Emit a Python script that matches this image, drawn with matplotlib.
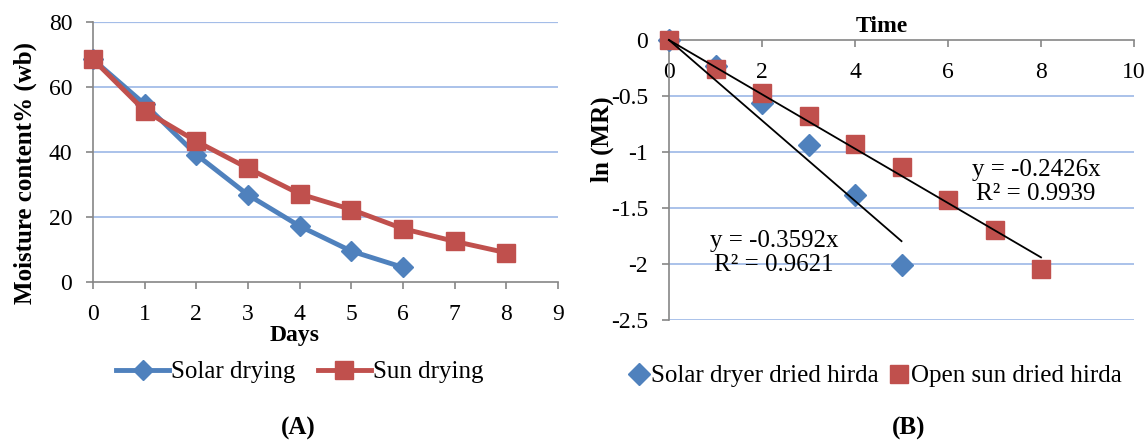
import numpy as np
import matplotlib
matplotlib.use("Agg")
import matplotlib.pyplot as plt

plt.rcParams['font.family'] = ['Liberation Serif', 'DejaVu Serif']
plt.rcParams['axes.unicode_minus'] = False

BLUE = '#4F81BD'
RED = '#C0504D'
GRID = '#A4BDE8'
AXIS = '#868686'

# (A) moisture content, % wet basis
days_solar = [0, 1, 2, 3, 4, 5, 6]
mc_solar = [68.5, 54.7, 39.2, 26.8, 17.2, 9.5, 4.5]
days_sun = [0, 1, 2, 3, 4, 5, 6, 7, 8]
mc_sun = [68.5, 52.7, 43.3, 35.0, 27.1, 22.3, 16.4, 12.5, 9.0]

# (B) ln(MR) vs time with fitted lines through origin
t_solar = [0, 1, 2, 3, 4, 5]
lnmr_solar = [0, -0.23, -0.56, -0.94, -1.38, -2.005]
t_sun = [0, 1, 2, 3, 4, 5, 6, 7, 8]
lnmr_sun = [0, -0.263, -0.47, -0.68, -0.93, -1.13, -1.43, -1.70, -2.045]
slope_solar, r2_solar = -0.3592, 0.9621
slope_sun, r2_sun = -0.2426, 0.9939

FS = 17

fig = plt.figure(figsize=(11.46, 4.4), dpi=100)

# ---------- panel A ----------
ax1 = fig.add_axes([93 / 1146, 1 - 282 / 440, 465 / 1146, 260 / 440])
ax1.plot(days_solar, mc_solar, color=BLUE, lw=3.5, marker='D', ms=10.5,
         label='Solar drying', zorder=3, clip_on=False)
ax1.plot(days_sun, mc_sun, color=RED, lw=3.5, marker='s', ms=13,
         label='Sun drying', zorder=4, clip_on=False)
ax1.set_xlim(0, 9)
ax1.set_ylim(0, 80)
ax1.set_xticks(range(0, 10))
ax1.set_yticks(range(0, 81, 20))
for v in range(20, 81, 20):
    ax1.axhline(v, color=GRID, lw=1.6 if v == 80 else 1.3, zorder=1)
for s in ['top', 'right']:
    ax1.spines[s].set_visible(False)
for s in ['left', 'bottom']:
    ax1.spines[s].set_color(AXIS)
    ax1.spines[s].set_linewidth(1.2)
ax1.tick_params(colors=AXIS, labelcolor='black', labelsize=FS, length=5, width=1.2)
ax1.tick_params(axis='x', pad=11)
ax1.tick_params(axis='y', pad=10)
ax1.set_xlabel('Days', fontsize=FS, fontweight='bold')
ax1.xaxis.set_label_coords(0.434, -0.165)
ax1.set_ylabel('Moisture content% (wb)', fontsize=18, fontweight='bold')
ax1.yaxis.set_label_coords(-0.12, 0.42)

fig.legend(*ax1.get_legend_handles_labels(), loc='center', ncol=2,
           bbox_to_anchor=(300 / 1146, 1 - 372 / 440), frameon=False,
           fontsize=18, handlelength=2.1, handletextpad=0.1, columnspacing=0.9)

# ---------- panel B ----------
ax2 = fig.add_axes([669 / 1146, 1 - 320 / 440, 465 / 1146, 280 / 440])
ax2.plot(t_solar, lnmr_solar, ls='none', marker='D', ms=11, color=BLUE,
         label='Solar dryer dried hirda', zorder=3, clip_on=False)
ax2.plot(t_sun, lnmr_sun, ls='none', marker='s', ms=13.5, color=RED,
         label='Open sun dried hirda', zorder=4, clip_on=False)

xs = np.array([0, max(t_solar)])
ax2.plot(xs, slope_solar * xs, color='black', lw=1.3, zorder=5, clip_on=False)
xs = np.array([0, max(t_sun)])
ax2.plot(xs, slope_sun * xs, color='black', lw=1.3, zorder=5, clip_on=False)

ax2.text(7.89, -1.268, f'y = {slope_sun}x\nR² = {r2_sun}', fontsize=18,
         ha='center', va='center', linespacing=1.1)
ax2.text(2.26, -1.902, f'y = {slope_solar}x\nR² = {r2_solar}', fontsize=18,
         ha='center', va='center', linespacing=1.1)

ax2.set_xlim(0, 10)
ax2.set_ylim(-2.5, 0)
ax2.set_xticks(range(0, 11, 2))
ax2.set_yticks([0, -0.5, -1, -1.5, -2, -2.5])
ax2.set_yticklabels(['0', '-0.5', '-1', '-1.5', '-2', '-2.5'])
for v in [-0.5, -1, -1.5, -2, -2.5]:
    ax2.axhline(v, color=GRID, lw=1.3, zorder=1)
ax2.spines['bottom'].set_position(('data', 0))
for s in ['top', 'right']:
    ax2.spines[s].set_visible(False)
for s in ['left', 'bottom']:
    ax2.spines[s].set_color(AXIS)
    ax2.spines[s].set_linewidth(1.2)
ax2.tick_params(colors=AXIS, labelcolor='black', labelsize=FS, length=5, width=1.2)
ax2.tick_params(axis='x', pad=11)
ax2.tick_params(axis='y', pad=10)
ax2.set_xlabel('Time', fontsize=FS, fontweight='bold')
ax2.xaxis.set_label_position('top')
ax2.xaxis.set_label_coords(0.458, 1.03)
ax2.set_ylabel('ln (MR)', fontsize=18, fontweight='bold')
ax2.yaxis.set_label_coords(-0.118, 0.646)

fig.legend(*ax2.get_legend_handles_labels(), loc='center', ncol=2,
           bbox_to_anchor=(876 / 1146, 1 - 376 / 440), frameon=False,
           fontsize=18, handlelength=0.7, handletextpad=0.1, columnspacing=0.5)

fig.text(298 / 1146, 1 - 428 / 440, '(A)', fontsize=18, fontweight='bold',
         ha='center', va='center')
fig.text(909 / 1146, 1 - 428 / 440, '(B)', fontsize=18, fontweight='bold',
         ha='center', va='center')

fig.savefig('out.png', dpi=100)
